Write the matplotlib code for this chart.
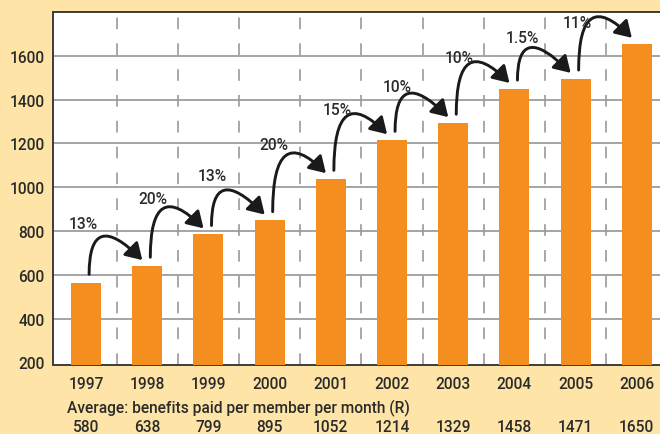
#Import required modules
import matplotlib
matplotlib.use("Agg")
import matplotlib.pyplot as plt
from matplotlib.transforms import blended_transform_factory

#Chart data
years = ["1997", "1998", "1999", "2000", "2001", "2002", "2003", "2004", "2005", "2006"]
bar_heights = [562, 640, 785, 848, 1037, 1215, 1293, 1449, 1495, 1655]
avg_benefits = ["580", "638", "799", "895", "1052", "1214", "1329", "1458", "1471", "1650"]
growth = ["13%", "20%", "13%", "20%", "15%", "10%", "10%", "1.5%", "11%"]
yticks = [200, 400, 600, 800, 1000, 1200, 1400, 1600]

#Offsets (points) of each growth label above the middle of its two bars
label_dx = [-2, 4, 3, 3, 5, 4, 4, 6, 1]
label_dy = [37, 37.5, 37.5, 39.5, 36, 32.5, 35, 33, 28]

#Colours
bg_colour = "#FEE4A6"
bar_colour = "#F38E1F"
text_colour = "#2B2B2B"
grid_colour = "#8C8C8C"
font_size = 11.2

plt.rcParams["font.family"] = ["Roboto", "DejaVu Sans"]
plt.rcParams["font.weight"] = "medium"

fig = plt.figure(figsize=(6.6, 4.35), dpi=100, facecolor=bg_colour)
ax = fig.add_axes([53 / 660, 69 / 435, 1 - 53 / 660, 353 / 435])
ax.set_facecolor("white")

x = list(range(len(years)))

#Bars
ax.bar(x, bar_heights, width=0.49, color=bar_colour, zorder=3)

#Axis limits
ax.set_xlim(-0.54, 9.38)
ax.set_ylim(188, 1800)

#Horizontal grid lines (solid) and vertical dashed separators between bars
for yv in yticks[1:]:
    ax.axhline(yv, color=grid_colour, lw=1.1, zorder=1)
for i in range(len(years)):
    ax.axvline(i + 0.5, color="#9A9A9A", lw=1.2, linestyle=(0, (7, 8.5)), zorder=1)

#Spines
for side in ["left", "bottom", "top"]:
    ax.spines[side].set_color("#3C3C3C")
    ax.spines[side].set_linewidth(1.4)
ax.spines["right"].set_visible(False)

#Ticks and labels
ax.set_yticks(yticks)
ax.set_yticklabels([str(v) for v in yticks])
ax.set_xticks(x)
ax.set_xticklabels(years)
ax.tick_params(axis="both", length=0, labelsize=font_size, colors=text_colour)
ax.tick_params(axis="y", pad=6)
ax.tick_params(axis="x", pad=8)

#Curved arrows with growth percentages between consecutive bars
for i, pct in enumerate(growth):
    start = (i + 0.05, bar_heights[i] + 40)
    tip = (i + 1 - 0.08, bar_heights[i + 1] + 27)
    ax.annotate("", xy=tip, xytext=start,
                arrowprops=dict(arrowstyle="-|>,head_length=0.65,head_width=0.4",
                                mutation_scale=15, color="#1A1A1A", lw=2.1,
                                shrinkA=0, shrinkB=0,
                                connectionstyle="angle3,angleA=90,angleB=135"),
                zorder=4)
    mid = (bar_heights[i] + bar_heights[i + 1]) / 2
    ax.annotate(pct, xy=(i, mid), xytext=(label_dx[i], label_dy[i]),
                textcoords="offset points", ha="center", va="center",
                fontsize=font_size, color=text_colour, zorder=5)

#Text under the chart
fig.text(67 / 660, 1 - 408 / 435, "Average: benefits paid per member per month (R)",
         ha="left", va="center", fontsize=font_size, color=text_colour)
trans = blended_transform_factory(ax.transData, fig.transFigure)
for i, val in enumerate(avg_benefits):
    ax.text(i, 1 - 428 / 435, val, transform=trans, ha="center", va="center",
            fontsize=font_size, color=text_colour, clip_on=False)

# save the plot output as png
fig.savefig("out.png", dpi=100, facecolor=bg_colour)
